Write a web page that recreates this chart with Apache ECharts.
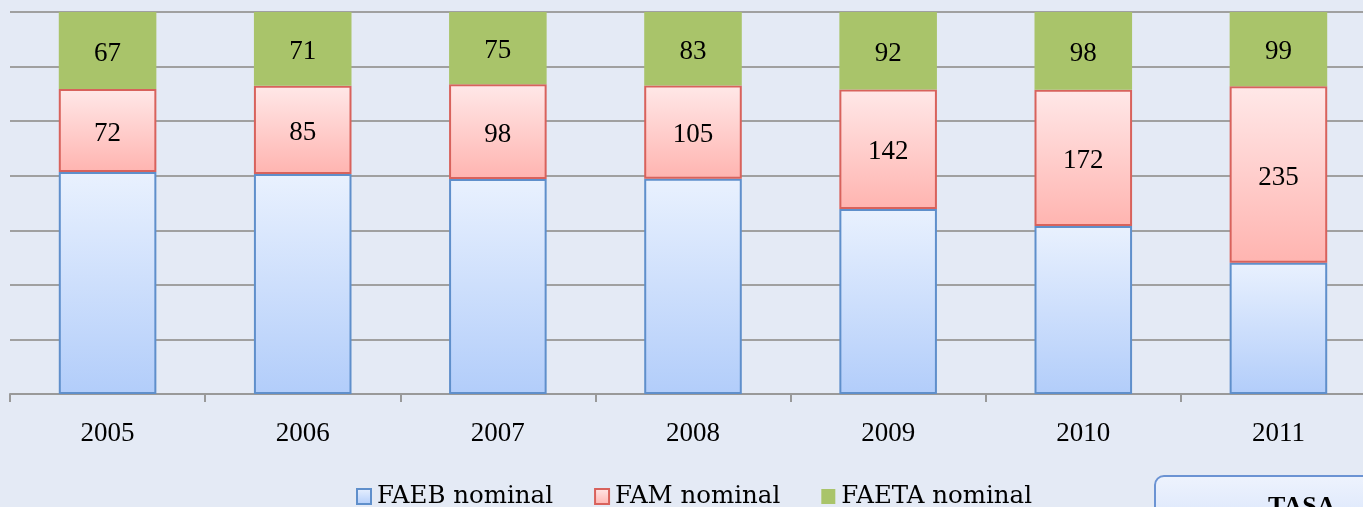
<!DOCTYPE html>
<html>
<head>
<meta charset="utf-8">
<script src="https://cdn.jsdelivr.net/npm/echarts@6/dist/echarts.min.js"></script>
<style>
  html,body{margin:0;padding:0;background:#e4eaf5;}
  #chart{width:1363px;height:507px;}
</style>
</head>
<body>
<div id="chart"></div>
<script>
var years = ['2005','2006','2007','2008','2009','2010','2011'];
var faeb = [193, 212, 223, 243, 220, 212, 175];   // no labels in picture
var fam = [72, 85, 98, 105, 142, 172, 235];
var faeta = [67, 71, 75, 83, 92, 98, 99];

// 100% stacked: each year as share of its total
var totals = years.map(function(y, i){ return faeb[i] + fam[i] + faeta[i]; });
function pct(arr){
  return arr.map(function(v, i){ return { value: v / totals[i] * 100, raw: v }; });
}

var numFont = '"Liberation Serif", serif';
var chart = echarts.init(document.getElementById('chart'));

var barLabel = {
  show: true, position: 'inside', offset: [0, 3],
  fontFamily: numFont, fontSize: 27, color: '#000',
  formatter: function(p){ return p.data.raw; }
};

chart.setOption({
  backgroundColor: '#e4eaf5',
  animation: false,
  // plot runs past the right edge (8th tick at ~1376)
  grid: { left: 10, right: -13, top: 12, bottom: 113, outerBoundsMode: 'none', containLabel: false },
  legend: {
    left: 356, top: 484, padding: 0,
    icon: 'rect',
    itemWidth: 14, itemHeight: 15, itemGap: 41,
    textStyle: { fontFamily: '"DejaVu Serif", serif', fontSize: 24.5, color: '#000', padding: [0, 0, 0, 1] },
    data: ['FAEB nominal', 'FAM nominal', 'FAETA nominal']
  },
  xAxis: {
    type: 'category',
    data: years,
    axisLine: { lineStyle: { color: '#999', width: 2 } },
    axisTick: { show: true, interval: 0, length: 8, lineStyle: { color: '#999', width: 2 } },
    axisLabel: { fontFamily: numFont, fontSize: 27, color: '#000', margin: 26 }
  },
  yAxis: {
    type: 'value',
    min: 0, max: 100, interval: 100 / 7,
    axisLabel: { show: false },
    axisLine: { show: false },
    axisTick: { show: false },
    splitLine: { lineStyle: { color: '#a0a0a0', width: 2 } }
  },
  series: [
    {
      name: 'FAEB nominal', type: 'bar', stack: 'a', barWidth: '50%',
      data: pct(faeb),
      itemStyle: {
        color: new echarts.graphic.LinearGradient(0, 0, 0, 1, [
          { offset: 0, color: '#e9f1fe' }, { offset: 1, color: '#b2cdfa' }
        ]),
        borderColor: '#5f8fcb', borderWidth: 2
      }
    },
    {
      name: 'FAM nominal', type: 'bar', stack: 'a',
      data: pct(fam),
      itemStyle: {
        color: new echarts.graphic.LinearGradient(0, 0, 0, 1, [
          { offset: 0, color: '#ffe8e8' }, { offset: 1, color: '#ffb4b0' }
        ]),
        borderColor: '#d8625c', borderWidth: 2
      },
      label: barLabel
    },
    {
      name: 'FAETA nominal', type: 'bar', stack: 'a',
      data: pct(faeta),
      itemStyle: { color: '#a9c46a' },
      label: barLabel
    }
  ],
  graphic: [
    {
      type: 'rect',
      shape: { x: 1155, y: 476, width: 230, height: 60, r: 9 },
      style: {
        fill: new echarts.graphic.LinearGradient(0, 0, 0, 1, [
          { offset: 0, color: '#eef3fd' }, { offset: 1, color: '#d6e3fb' }
        ]),
        stroke: '#6b93d3', lineWidth: 2
      }
    },
    {
      type: 'text', left: 1268, top: 494,
      style: { text: 'TASA', font: 'bold 26px "Liberation Serif", serif', fill: '#000' }
    }
  ]
});
</script>
</body>
</html>
